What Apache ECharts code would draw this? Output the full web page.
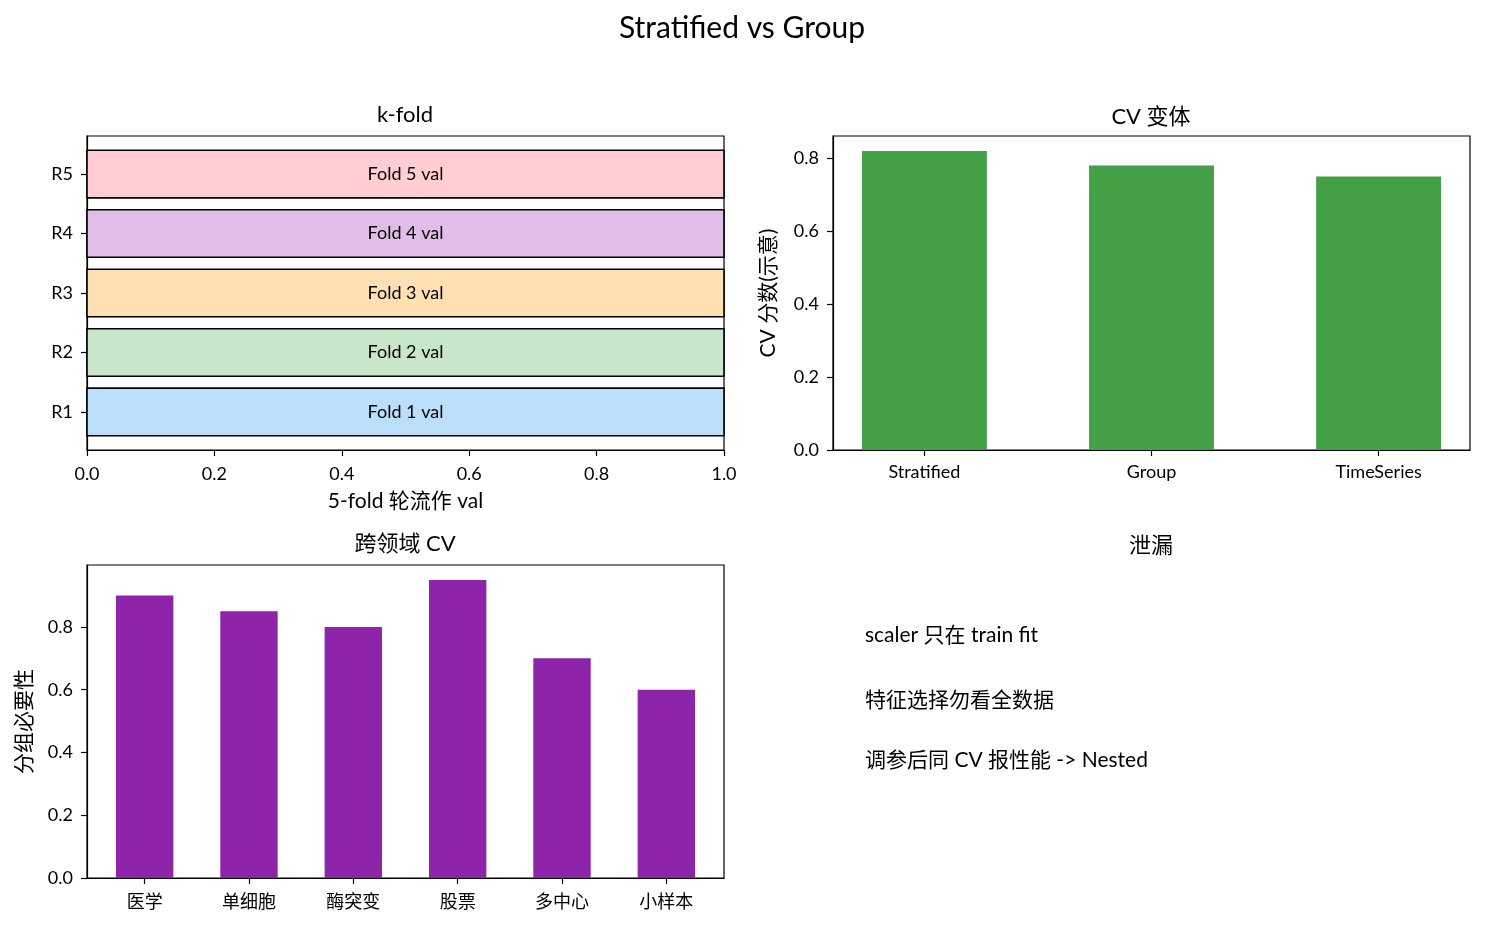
<!DOCTYPE html>
<html>
<head>
<meta charset="utf-8">
<script src="https://cdn.jsdelivr.net/npm/echarts@6/dist/echarts.min.js"></script>
<style>html,body{margin:0;padding:0;background:#fff}#c{width:1485px;height:925px}</style>
</head>
<body>
<div id="c"></div>
<script>
// ---- data ----
const foldRows = ['R1', 'R2', 'R3', 'R4', 'R5'];
const foldWidths = [1, 1, 1, 1, 1];
const foldLabels = ['Fold 1 val', 'Fold 2 val', 'Fold 3 val', 'Fold 4 val', 'Fold 5 val'];
const foldColors = ['#bbdefb', '#c8e6c9', '#ffe0b2', '#e1bee7', '#ffcdd2'];
const kfoldTicks = [0, 0.2, 0.4, 0.6, 0.8, 1.0];

const cvNames = ['Stratified', 'Group', 'TimeSeries'];
const cvScores = [0.82, 0.78, 0.75];
const cvTicks = [0, 0.2, 0.4, 0.6, 0.8];

const domainNames = ['医学', '单细胞', '酶突变', '股票', '多中心', '小样本'];
const domainNeed = [0.90, 0.85, 0.80, 0.95, 0.70, 0.60];
const domainTicks = [0, 0.2, 0.4, 0.6, 0.8];

const leakNotes = ['scaler 只在 train fit', '特征选择勿看全数据', '调参后同 CV 报性能 -> Nested'];

// ---- chart ----
const FONT = 'Lato, "Noto Sans CJK SC", sans-serif';
const chart = echarts.init(document.getElementById('c'), null, {renderer: 'canvas'});

const axisCommon = {
  axisLine: {show: true, onZero: false, lineStyle: {color: '#000', width: 1.2}},
  axisTick: {show: true, length: 6, inside: false, lineStyle: {color: '#000', width: 1.2}},
  splitLine: {show: false},
  axisLabel: {color: '#000', fontFamily: FONT, fontSize: 18, margin: 14, showMinLabel: true, showMaxLabel: true, hideOverlap: false},
  nameTextStyle: {color: '#000', fontFamily: FONT, fontSize: 21}
};
function ax(extra) {
  const o = JSON.parse(JSON.stringify(axisCommon));
  for (const k in extra) {
    if (extra[k] && typeof extra[k] === 'object' && o[k] && !Array.isArray(extra[k])) Object.assign(o[k], extra[k]);
    else o[k] = extra[k];
  }
  return o;
}

const grids = [
  {left: 87, top: 136, width: 637, height: 314},
  {left: 833, top: 136, width: 637, height: 314},
  {left: 87, top: 565, width: 637, height: 313}
].map(g => Object.assign(g, {show: true, borderColor: '#000', borderWidth: 1.2, backgroundColor: 'transparent', containLabel: false}));

const fmt1 = v => v.toFixed(1);
const titleStyle = {fontFamily: FONT, fontSize: 22, fontWeight: 'normal', color: '#000'};

const option = {
  backgroundColor: '#fff',
  animation: false,
  textStyle: {fontFamily: FONT},
  title: [
    {text: 'Stratified vs Group', left: 737, top: 8, textAlign: 'center', textStyle: Object.assign({}, titleStyle, {fontSize: 30})},
    {text: 'k-fold', left: 400, top: 99, textAlign: 'center', textStyle: titleStyle},
    {text: 'CV 变体', left: 1146, top: 101, textAlign: 'center', textStyle: titleStyle},
    {text: '跨领域 CV', left: 400, top: 528, textAlign: 'center', textStyle: titleStyle},
    {text: '泄漏', left: 1146, top: 530, textAlign: 'center', textStyle: titleStyle}
  ],
  grid: grids,
  xAxis: [
    ax({type: 'value', gridIndex: 0, min: 0, max: 1,
        axisLabel: {customValues: kfoldTicks, formatter: fmt1, margin: 15},
        axisTick: {customValues: kfoldTicks},
        name: '5-fold 轮流作 val', nameLocation: 'middle', nameGap: 41}),
    ax({type: 'value', gridIndex: 1, min: -0.4025, max: 2.4025,
        axisLabel: {customValues: [0, 1, 2], formatter: v => cvNames[Math.round(v)], fontSize: 18, margin: 13},
        axisTick: {customValues: [0, 1, 2]}}),
    ax({type: 'value', gridIndex: 2, min: -0.5525, max: 5.5525,
        axisLabel: {customValues: [0, 1, 2, 3, 4, 5], formatter: v => domainNames[Math.round(v)], fontSize: 18, margin: 15},
        axisTick: {customValues: [0, 1, 2, 3, 4, 5]}})
  ],
  yAxis: [
    ax({type: 'value', gridIndex: 0, min: -0.64, max: 4.64,
        axisLabel: {customValues: [0, 1, 2, 3, 4], formatter: v => foldRows[Math.round(v)]},
        axisTick: {customValues: [0, 1, 2, 3, 4]}}),
    ax({type: 'value', gridIndex: 1, min: 0, max: 0.861,
        axisLabel: {customValues: cvTicks, formatter: fmt1},
        axisTick: {customValues: cvTicks},
        name: 'CV 分数(示意)', nameLocation: 'middle', nameRotate: 90, nameGap: 54}),
    ax({type: 'value', gridIndex: 2, min: 0, max: 0.9975,
        axisLabel: {customValues: domainTicks, formatter: fmt1},
        axisTick: {customValues: domainTicks},
        name: '分组必要性', nameLocation: 'middle', nameRotate: 90, nameGap: 52})
  ],
  series: [
    {
      type: 'custom', xAxisIndex: 0, yAxisIndex: 0,
      data: foldRows.map((r, i) => [foldWidths[i], i]),
      renderItem: function (params, api) {
        const i = api.value(1);
        const p0 = api.coord([0, i + 0.4]);
        const p1 = api.coord([api.value(0), i - 0.4]);
        const mid = api.coord([api.value(0) / 2, i]);
        return {
          type: 'group',
          children: [
            {type: 'rect', shape: {x: p0[0], y: p0[1], width: p1[0] - p0[0], height: p1[1] - p0[1]},
             style: {fill: foldColors[i], stroke: '#000', lineWidth: 1.6}},
            {type: 'text', x: mid[0], y: mid[1],
             style: {text: foldLabels[i], fill: '#000', font: '18px ' + FONT, align: 'center', verticalAlign: 'middle'}}
          ]
        };
      }
    },
    {
      type: 'custom', xAxisIndex: 1, yAxisIndex: 1,
      data: cvScores.map((v, i) => [i, v]),
      renderItem: function (params, api) {
        const i = api.value(0);
        const p0 = api.coord([i - 0.275, api.value(1)]);
        const p1 = api.coord([i + 0.275, 0]);
        return {type: 'rect', shape: {x: p0[0], y: p0[1], width: p1[0] - p0[0], height: p1[1] - p0[1]},
                style: {fill: '#43a047'}};
      }
    },
    {
      type: 'custom', xAxisIndex: 2, yAxisIndex: 2,
      data: domainNeed.map((v, i) => [i, v]),
      renderItem: function (params, api) {
        const i = api.value(0);
        const p0 = api.coord([i - 0.275, api.value(1)]);
        const p1 = api.coord([i + 0.275, 0]);
        return {type: 'rect', shape: {x: p0[0], y: p0[1], width: p1[0] - p0[0], height: p1[1] - p0[1]},
                style: {fill: '#8e24aa'}};
      }
    }
  ],
  graphic: leakNotes.map((t, k) => ({
    type: 'text', left: 865, top: [625, 690, 750][k],
    style: {text: t, fill: '#000', font: '21px ' + FONT}
  }))
};
chart.setOption(option);
</script>
</body>
</html>
